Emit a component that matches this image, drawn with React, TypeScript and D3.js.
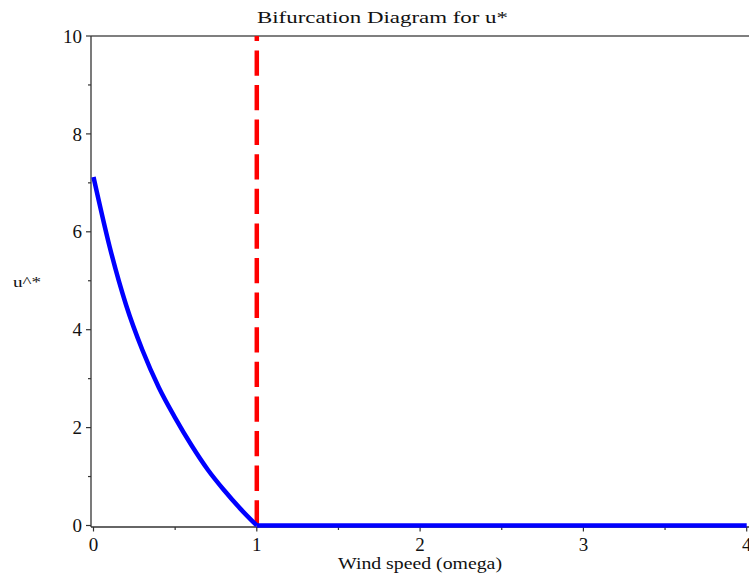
import React from "react";
import * as d3 from "d3";

// Equilibrium branch u* as a function of wind speed omega
const omegaBranch = [0, 0.1, 0.2, 0.3, 0.4, 0.5, 0.6, 0.7, 0.8, 0.9, 1.0];
const uBranch = [7.12, 5.68, 4.5, 3.58, 2.82, 2.2, 1.64, 1.14, 0.72, 0.34, 0];
// Trivial branch beyond the bifurcation point
const omegaZero = [1, 4];
const uZero = [0, 0];
// Bifurcation threshold
const omegaCrit = 1;

const xTicks = [0, 1, 2, 3, 4];
const xMinor = [0.5, 1.5, 2.5, 3.5];
const yTicks = [0, 2, 4, 6, 8, 10];
const yMinor = [1, 3, 5, 7, 9];

const W = 749;
const H = 578;

export default function App() {
  const x = d3.scaleLinear().domain([0, 4]).range([93.5, 746.7]);
  const y = d3.scaleLinear().domain([0, 10]).range([525.5, 36]);

  const line = d3
    .line<[number, number]>()
    .x((d) => x(d[0]))
    .y((d) => y(d[1]))
    .curve(d3.curveMonotoneX);

  const branch = line(omegaBranch.map((w, i) => [w, uBranch[i]] as [number, number])) || "";
  const zero = line(omegaZero.map((w, i) => [w, uZero[i]] as [number, number])) || "";

  const axisX = 91;
  const axisY = 527;
  const axisColor = "#333";
  const font = "'Liberation Serif', 'Times New Roman', serif";

  return (
    <div style={{ position: "absolute", left: 0, top: 0 }}>
      <svg width={W} height={H} style={{ display: "block", background: "#fff" }}>
        {/* frame */}
        <line x1={axisX} y1={36} x2={W} y2={36} stroke="#555" strokeWidth={1.4} />
        <line x1={axisX} y1={36} x2={axisX} y2={axisY} stroke={axisColor} strokeWidth={1.3} />
        <line x1={axisX} y1={axisY} x2={W} y2={axisY} stroke={axisColor} strokeWidth={1.3} />

        {/* y ticks */}
        {yTicks.map((t) => (
          <g key={"yt" + t}>
            <line x1={axisX - 5} x2={axisX} y1={y(t)} y2={y(t)} stroke={axisColor} strokeWidth={1.2} />
            <text
              x={82}
              y={y(t)}
              dy="0.35em"
              textAnchor="end"
              fontFamily={font}
              fontSize={19}
              fill="#111"
            >
              {t}
            </text>
          </g>
        ))}
        {yMinor.map((t) => (
          <line key={"ym" + t} x1={axisX - 3} x2={axisX} y1={y(t)} y2={y(t)} stroke={axisColor} strokeWidth={1.2} />
        ))}

        {/* x ticks */}
        {xTicks.map((t) => (
          <g key={"xt" + t}>
            <line x1={x(t)} x2={x(t)} y1={axisY} y2={axisY + 4.5} stroke={axisColor} strokeWidth={1.2} />
            <text
              x={x(t)}
              y={551}
              textAnchor="middle"
              fontFamily={font}
              fontSize={19}
              fill="#111"
            >
              {t}
            </text>
          </g>
        ))}
        {xMinor.map((t) => (
          <line key={"xm" + t} x1={x(t)} x2={x(t)} y1={axisY} y2={axisY + 3} stroke={axisColor} strokeWidth={1.2} />
        ))}

        {/* bifurcation threshold */}
        <line
          x1={x(omegaCrit)}
          x2={x(omegaCrit)}
          y1={y(0)}
          y2={y(10)}
          stroke="#ff0000"
          strokeWidth={4.5}
          strokeDasharray="25.3 9.3"
        />

        {/* equilibrium branches */}
        <path d={branch} fill="none" stroke="#0000ff" strokeWidth={4.5} strokeLinejoin="round" />
        <path d={zero} fill="none" stroke="#0000ff" strokeWidth={4.5} />

        {/* labels */}
        <text
          x={382.5}
          y={23}
          textAnchor="middle"
          fontFamily={font}
          fontSize={17.5}
          fill="#111"
          textLength={251}
          lengthAdjust="spacingAndGlyphs"
        >
          Bifurcation Diagram for u*
        </text>
        <text
          x={420}
          y={569}
          textAnchor="middle"
          fontFamily={font}
          fontSize={17}
          fill="#111"
          textLength={164}
          lengthAdjust="spacingAndGlyphs"
        >
          Wind speed (omega)
        </text>
        <text
          x={27}
          y={287}
          textAnchor="middle"
          fontFamily={font}
          fontSize={14}
          fill="#111"
          textLength={28}
          lengthAdjust="spacingAndGlyphs"
        >
          u^*
        </text>
      </svg>
    </div>
  );
}
